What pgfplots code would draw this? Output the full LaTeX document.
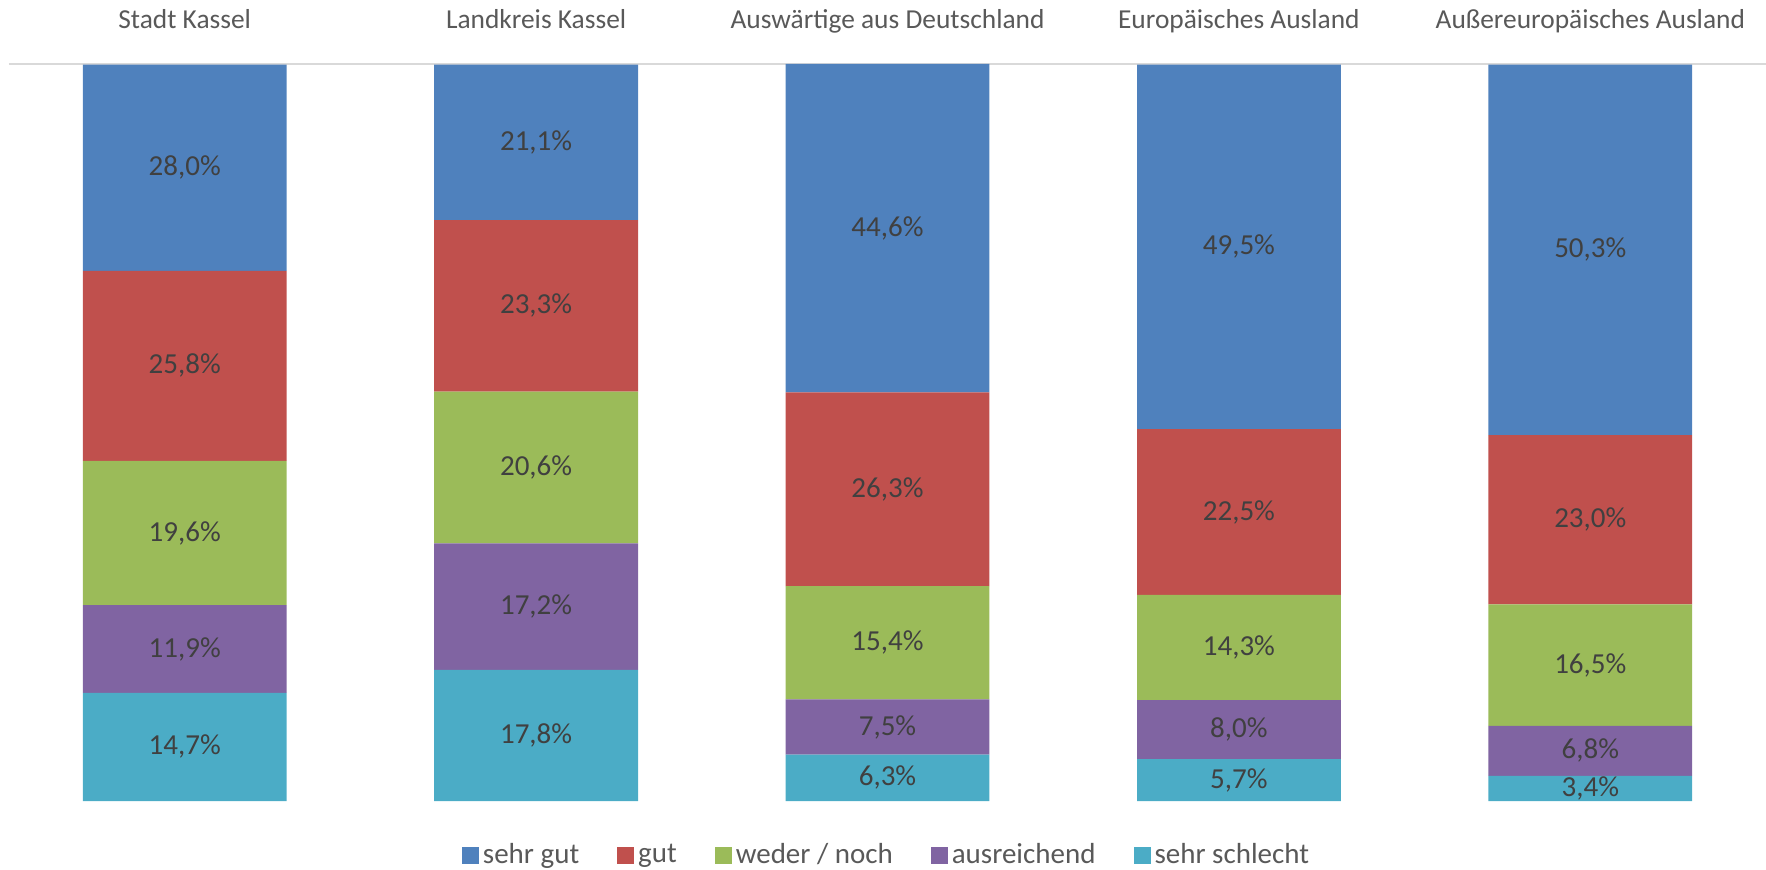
\documentclass[border=0pt]{standalone}
\usepackage{pgfplots}
\pgfplotsset{compat=1.18}
\usepackage{pgfplotstable}
\usepackage{fontspec}
\setmainfont{Carlito}
\definecolor{cSG}{HTML}{4F81BD}
\definecolor{cG}{HTML}{C0504D}
\definecolor{cWN}{HTML}{9BBB59}
\definecolor{cAR}{HTML}{8064A2}
\definecolor{cSS}{HTML}{4BACC6}
\definecolor{axisgray}{HTML}{D9D9D9}
\definecolor{labelgray}{HTML}{595959}
\definecolor{datagray}{HTML}{404040}
\pgfplotstableread{
x sg g wn ar ss
0 28.0 25.8 19.6 11.9 14.7
1 21.1 23.3 20.6 17.2 17.8
2 44.6 26.3 15.4 7.5 6.3
3 49.5 22.5 14.3 8.0 5.7
4 50.3 23.0 16.5 6.8 3.4
}\data
\begin{document}
\begin{tikzpicture}
\useasboundingbox (-4.5pt,-34pt) rectangle (878.5pt,400.5pt);
\begin{axis}[
  scale only axis, width=878.5pt, height=368.5pt,
  ybar stacked, bar width=0.58,
  xmin=-0.5, xmax=4.5, ymin=0, ymax=100.1,
  axis x line*=top, axis y line=none,
  x axis line style={draw=axisgray, line width=1.2pt, -},
  xtick={0,1,2,3,4},
  xticklabels={Stadt Kassel, Landkreis Kassel, Auswärtige aus Deutschland, Europäisches Ausland, Außereuropäisches Ausland},
  major tick length=0pt,
  xticklabel style={font=\fontsize{13.7}{16}\selectfont, text=labelgray, anchor=base, yshift=17.7pt},
  ytick=\empty,
  point meta=explicit,
  nodes near coords={\pgfmathprintnumber[fixed,fixed zerofill,precision=1,use comma,assume math mode=true]{\pgfplotspointmeta}\%},
  every node near coord/.append style={anchor=center, font=\fontsize{14.5}{16}\selectfont, text=datagray},
  reverse legend,
  legend columns=5,
  legend style={at={(0.5,0)}, anchor=center, yshift=-27pt, draw=none, font=\fontsize{14.5}{16}\selectfont, text=labelgray, /tikz/every even column/.append style={column sep=17pt}},
  legend image code/.code={\fill[#1] (0pt,-4.25pt) rectangle (8.5pt,4.25pt);},
]
\addplot[fill=cSS, draw=none] table[x=x, y=ss, meta=ss] {\data};
\addplot[fill=cAR, draw=none] table[x=x, y=ar, meta=ar] {\data};
\addplot[fill=cWN, draw=none] table[x=x, y=wn, meta=wn] {\data};
\addplot[fill=cG, draw=none] table[x=x, y=g, meta=g] {\data};
\addplot[fill=cSG, draw=none] table[x=x, y=sg, meta=sg] {\data};
\legend{sehr schlecht, ausreichend, weder / noch, gut, sehr gut}
\end{axis}
\end{tikzpicture}
\end{document}
